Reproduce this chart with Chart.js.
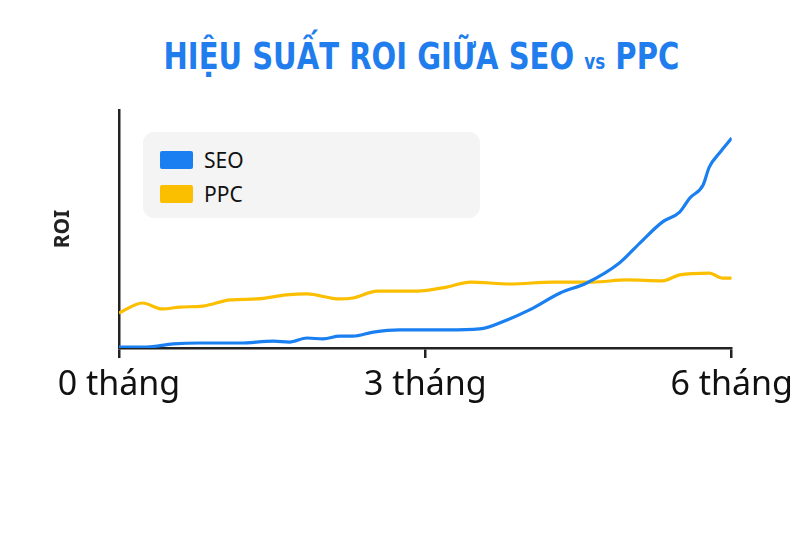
<!DOCTYPE html>
<html>
<head>
<meta charset="utf-8">
<script src="https://cdn.jsdelivr.net/npm/chart.js@4"></script>
<style>
  html,body{margin:0;padding:0;background:#fff;}
  #wrap{position:relative;width:800px;height:533px;overflow:hidden;}
  #title{position:absolute;left:0;top:34px;width:842px;text-align:center;color:#1f7ded;
    font-family:"DejaVu Sans Condensed","DejaVu Sans",sans-serif;font-weight:bold;font-size:38px;}
  #title span{display:inline-block;transform:scaleX(0.85);transform-origin:center;white-space:nowrap;}
  #title small{font-size:22px;font-weight:bold;}
  #legend{position:absolute;left:143px;top:132px;width:337px;height:86px;background:#f4f4f4;border-radius:11px;
    font-family:"Noto Sans",sans-serif;font-size:21px;color:#111;}
  .item{position:absolute;left:17px;height:20px;display:flex;align-items:center;}
  .sw{width:33px;height:18px;border-radius:2px;margin-right:11px;}
  canvas{position:absolute;left:0;top:0;}
</style>
</head>
<body>
<div id="wrap">
  <div id="title"><span>HIỆU SUẤT ROI GIỮA SEO <small>vs</small> PPC</span></div>
  <canvas id="roiChart" width="800" height="533"></canvas>
  <div id="legend"></div>
</div>
<script>
const tickLabels = ['0 tháng', '3 tháng', '6 tháng'];
const seoMonths = [0, 0.27, 0.53, 0.79, 1.18, 1.51, 1.67, 1.84, 2.0, 2.16, 2.29, 2.49, 2.75, 3.21, 3.53, 3.80, 4.02, 4.32, 4.58, 4.90, 5.10, 5.32, 5.49, 5.59, 5.72, 5.78, 5.88, 6.0];
const seoRoi    = [0.4, 0.4, 1.7, 2.1, 2.1, 2.9, 2.5, 4.2, 3.8, 5.0, 5.0, 6.7, 7.6, 7.6, 8.0, 11.8, 16.0, 23.1, 27.3, 35.7, 44.1, 52.9, 57.1, 63.0, 68.5, 76.0, 81.9, 88.2];
const ppcMonths = [0, 0.23, 0.42, 0.60, 0.82, 1.09, 1.35, 1.64, 1.84, 2.16, 2.29, 2.53, 2.92, 3.21, 3.44, 3.83, 4.25, 4.64, 4.97, 5.32, 5.49, 5.78, 5.91, 6.0];
const ppcRoi    = [14.7, 18.9, 16.4, 17.2, 17.6, 20.2, 20.6, 22.3, 22.7, 20.6, 21.0, 23.9, 23.9, 25.6, 27.7, 26.9, 27.7, 27.7, 28.6, 28.2, 30.7, 31.5, 29.4, 29.4];

const seoColor = '#1a7ff0', ppcColor = '#fbbf00', axisColor = '#222';
const pts = (xs, ys) => xs.map((x, i) => ({ x, y: ys[i] }));

const chart = new Chart(document.getElementById('roiChart'), {
  type: 'line',
  data: { datasets: [
    { label: 'SEO', data: pts(seoMonths, seoRoi), borderColor: seoColor, backgroundColor: seoColor, borderWidth: 3.2, pointRadius: 0, tension: 0.4, cubicInterpolationMode: 'monotone' },
    { label: 'PPC', data: pts(ppcMonths, ppcRoi), borderColor: ppcColor, backgroundColor: ppcColor, borderWidth: 3.2, pointRadius: 0, tension: 0.4, cubicInterpolationMode: 'monotone' }
  ]},
  options: {
    responsive: false, animation: false,
    layout: { padding: { left: 50, right: 68, top: 110, bottom: 125 } },
    plugins: { legend: { display: false }, tooltip: { enabled: false } },
    scales: {
      x: {
        type: 'linear', min: 0, max: 6,
        afterFit: s => { s.height = 60; },
        border: { color: axisColor, width: 2.5 },
        grid: { drawOnChartArea: false, color: axisColor, lineWidth: 2.5, tickLength: 10 },
        ticks: { stepSize: 3, maxRotation: 0, padding: 7, color: '#111',
          font: { family: '"Noto Sans", sans-serif', size: 34 },
          callback: v => tickLabels[v / 3] }
      },
      y: {
        min: 0, max: 100,
        afterFit: s => { s.width = 69; },
        border: { color: axisColor, width: 2.5 },
        grid: { display: false },
        ticks: { display: false },
        title: { display: true, text: 'ROI', color: '#222', padding: 0,
          font: { family: '"Noto Sans", sans-serif', size: 21, weight: 'bold' } }
      }
    }
  }
});

document.getElementById('legend').innerHTML = chart.data.datasets.map((d, i) =>
  `<div class="item" style="top:${18 + i * 34}px"><span class="sw" style="background:${d.borderColor}"></span>${d.label}</div>`).join('');
</script>
</body>
</html>
